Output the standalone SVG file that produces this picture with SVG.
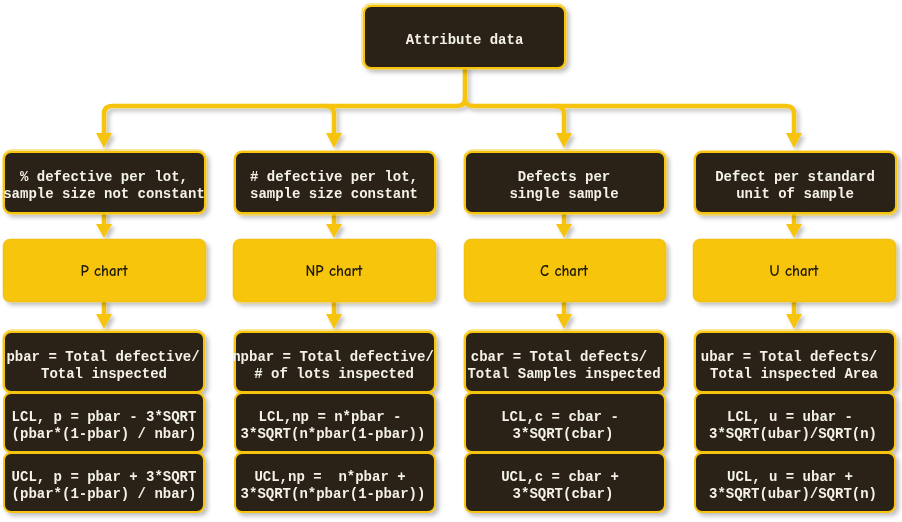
<svg xmlns="http://www.w3.org/2000/svg" width="902" height="522" viewBox="0 0 902 522">
<defs>
<filter id="sh" x="-10%" y="-10%" width="125%" height="130%">
<feDropShadow dx="3" dy="3" stdDeviation="2" flood-color="#000" flood-opacity="0.25"/>
</filter>
</defs>
<style>
.dk{fill:#292314;stroke:#F6C40F;stroke-width:2}
.dk2{fill:none;stroke:#F6C40F;stroke-width:1;opacity:0.8}
.yl{fill:#F8C511;stroke:#F6C40F;stroke-width:2}
.yl2{fill:none;stroke:#E8B800;stroke-width:0.8;opacity:0.6}
.t{font-family:"Liberation Mono","Courier New",monospace;font-weight:bold;font-size:14px;fill:#F4F1E8;text-anchor:middle}
.h{font-family:"Comic Neue","Noto Sans","Liberation Sans",sans-serif;font-weight:bold;font-size:15px;fill:#1E1A0E;text-anchor:middle}
.c{fill:none;stroke:#F6C40F;stroke-width:4.5;stroke-linecap:round;stroke-linejoin:round}
.ar{fill:#F6C40F}
</style>

<g id="connectors" filter="url(#sh)">
<path class="c" d="M465,68 L465,98 Q465,106 457,106 L112,106 Q104,106 104,114 L104,136"/>
<path class="c" d="M465,98 Q465,106 473,106 L786,106 Q794,106 794,114 L794,136"/>
<path class="c" d="M325,106 Q334,106 334,114 L334,136"/>
<path class="c" d="M555,106 Q564,106 564,114 L564,136"/>
<path class="ar" d="M96,133 L112,133 L104,148 Z"/>
<path class="ar" d="M326,133 L342,133 L334,148 Z"/>
<path class="ar" d="M556,133 L572,133 L564,148 Z"/>
<path class="ar" d="M786,133 L802,133 L794,148 Z"/>
<path class="c" d="M104,214 L104,226 M334,214 L334,226 M564,214 L564,226 M794,214 L794,226"/>
<path class="ar" d="M96,224 L112,224 L104,238 Z"/>
<path class="ar" d="M326,224 L342,224 L334,238 Z"/>
<path class="ar" d="M556,224 L572,224 L564,238 Z"/>
<path class="ar" d="M786,224 L802,224 L794,238 Z"/>
<path class="c" d="M104,302 L104,316 M334,302 L334,316 M564,302 L564,316 M794,302 L794,316"/>
<path class="ar" d="M96,314 L112,314 L104,329 Z"/>
<path class="ar" d="M326,314 L342,314 L334,329 Z"/>
<path class="ar" d="M556,314 L572,314 L564,329 Z"/>
<path class="ar" d="M786,314 L802,314 L794,329 Z"/>
</g>

<g id="root" filter="url(#sh)">
<rect class="dk" x="364" y="6" width="201" height="62" rx="7"/>
<rect class="dk2" x="362" y="4" width="204" height="65" rx="8"/>
<text class="t" x="464.5" y="44">Attribute data</text>
</g>

<g id="type-p" filter="url(#sh)">
<rect class="dk" x="4" y="152" width="201" height="61" rx="7"/>
<rect class="dk2" x="3" y="150" width="203" height="64" rx="8"/>
<text class="t" x="104" y="181">% defective per lot,</text>
<text class="t" x="104" y="198">sample size not constant</text>
</g>
<g id="type-np" filter="url(#sh)">
<rect class="dk" x="235" y="152" width="200" height="61" rx="7"/>
<rect class="dk2" x="234" y="151" width="202" height="64" rx="8"/>
<text class="t" x="334" y="181"># defective per lot,</text>
<text class="t" x="334" y="198">sample size constant</text>
</g>
<g id="type-c" filter="url(#sh)">
<rect class="dk" x="465" y="152" width="200" height="61" rx="7"/>
<rect class="dk2" x="464" y="150" width="202" height="64" rx="8"/>
<text class="t" x="564" y="181">Defects per</text>
<text class="t" x="564" y="198">single sample</text>
</g>
<g id="type-u" filter="url(#sh)">
<rect class="dk" x="695" y="152" width="201" height="61" rx="7"/>
<rect class="dk2" x="694" y="151" width="203" height="64" rx="8"/>
<text class="t" x="795" y="181">Defect per standard</text>
<text class="t" x="795" y="198">unit of sample</text>
</g>

<g id="chart-p" filter="url(#sh)">
<rect class="yl" x="4" y="240" width="201" height="61" rx="6"/>
<rect class="yl2" x="3" y="239" width="203" height="63" rx="7"/>
<text class="h" x="104" y="276">P chart</text>
</g>
<g id="chart-np" filter="url(#sh)">
<rect class="yl" x="234" y="240" width="201" height="61" rx="6"/>
<rect class="yl2" x="233" y="239" width="203" height="64" rx="8"/>
<text class="h" x="334" y="276">NP chart</text>
</g>
<g id="chart-c" filter="url(#sh)">
<rect class="yl" x="465" y="240" width="200" height="61" rx="6"/>
<rect class="yl2" x="464" y="239" width="202" height="63" rx="7"/>
<text class="h" x="564" y="276">C chart</text>
</g>
<g id="chart-u" filter="url(#sh)">
<rect class="yl" x="694" y="240" width="201" height="61" rx="6"/>
<rect class="yl2" x="693" y="239" width="203" height="63" rx="7"/>
<text class="h" x="794" y="276">U chart</text>
</g>

<g id="p-bar" filter="url(#sh)">
<rect class="dk" x="4" y="332" width="200" height="60" rx="7"/>
<rect class="dk2" x="3" y="330" width="202" height="63" rx="8"/>
<text class="t" x="103" y="361">pbar = Total defective/</text>
<text class="t" x="104" y="378">Total inspected</text>
</g>
<g id="p-lcl" filter="url(#sh)">
<rect class="dk" x="4" y="393" width="200" height="59" rx="7"/>
<text class="t" x="104" y="421">LCL, p = pbar - 3*SQRT</text>
<text class="t" x="104" y="438">(pbar*(1-pbar) / nbar)</text>
</g>
<g id="p-ucl" filter="url(#sh)">
<rect class="dk" x="4" y="453" width="200" height="59" rx="7"/>
<text class="t" x="104" y="481">UCL, p = pbar + 3*SQRT</text>
<text class="t" x="104" y="498">(pbar*(1-pbar) / nbar)</text>
</g>

<g id="np-bar" filter="url(#sh)">
<rect class="dk" x="235" y="332" width="200" height="60" rx="7"/>
<rect class="dk2" x="234" y="330" width="202" height="63" rx="8"/>
<text class="t" x="333" y="361">npbar = Total defective/</text>
<text class="t" x="334" y="378"># of lots inspected</text>
</g>
<g id="np-lcl" filter="url(#sh)">
<rect class="dk" x="235" y="393" width="200" height="59" rx="7"/>
<text class="t" x="330" y="421">LCL,np = n*pbar -</text>
<text class="t" x="333" y="438">3*SQRT(n*pbar(1-pbar))</text>
</g>
<g id="np-ucl" filter="url(#sh)">
<rect class="dk" x="235" y="453" width="200" height="59" rx="7"/>
<text class="t" x="330" y="481" xml:space="preserve">UCL,np =  n*pbar +</text>
<text class="t" x="333" y="498">3*SQRT(n*pbar(1-pbar))</text>
</g>

<g id="c-bar" filter="url(#sh)">
<rect class="dk" x="465" y="332" width="200" height="60" rx="7"/>
<rect class="dk2" x="464" y="330" width="202" height="63" rx="8"/>
<text class="t" x="559" y="361">cbar = Total defects/</text>
<text class="t" x="564" y="378">Total Samples inspected</text>
</g>
<g id="c-lcl" filter="url(#sh)">
<rect class="dk" x="465" y="393" width="200" height="59" rx="7"/>
<text class="t" x="560" y="421">LCL,c = cbar -</text>
<text class="t" x="563" y="438">3*SQRT(cbar)</text>
</g>
<g id="c-ucl" filter="url(#sh)">
<rect class="dk" x="465" y="453" width="200" height="59" rx="7"/>
<text class="t" x="560" y="481">UCL,c = cbar +</text>
<text class="t" x="563" y="498">3*SQRT(cbar)</text>
</g>

<g id="u-bar" filter="url(#sh)">
<rect class="dk" x="695" y="332" width="200" height="60" rx="7"/>
<rect class="dk2" x="694" y="330" width="202" height="63" rx="8"/>
<text class="t" x="789" y="361">ubar = Total defects/</text>
<text class="t" x="794" y="378">Total inspected Area</text>
</g>
<g id="u-lcl" filter="url(#sh)">
<rect class="dk" x="695" y="393" width="200" height="59" rx="7"/>
<text class="t" x="790" y="421">LCL, u = ubar -</text>
<text class="t" x="793" y="438">3*SQRT(ubar)/SQRT(n)</text>
</g>
<g id="u-ucl" filter="url(#sh)">
<rect class="dk" x="695" y="453" width="200" height="59" rx="7"/>
<text class="t" x="790" y="481">UCL, u = ubar +</text>
<text class="t" x="793" y="498">3*SQRT(ubar)/SQRT(n)</text>
</g>
</svg>
